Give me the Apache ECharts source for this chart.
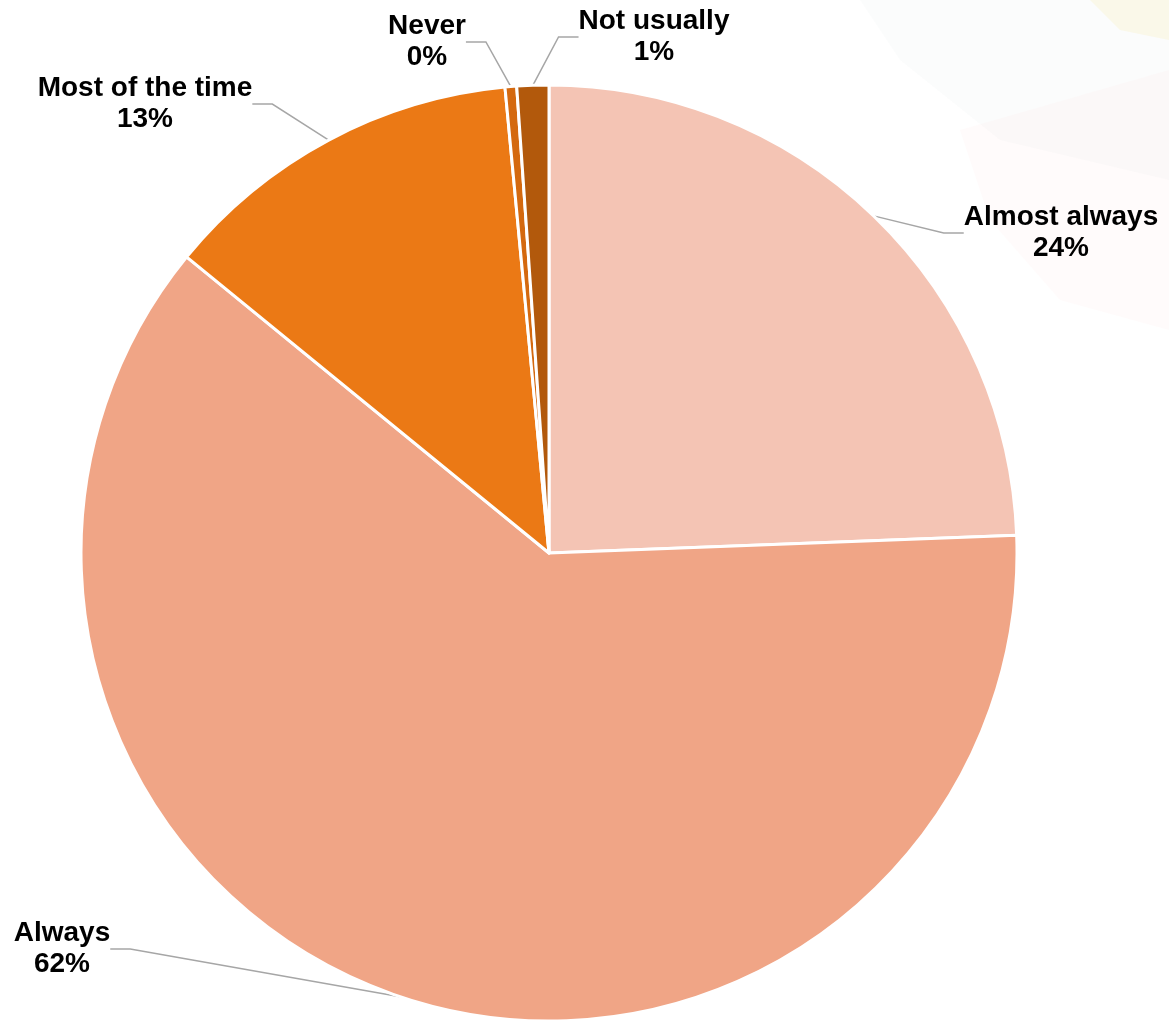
<!DOCTYPE html>
<html>
<head>
<meta charset="utf-8">
<style>
  html, body { margin: 0; padding: 0; background: #ffffff; }
  #chart { width: 1169px; height: 1021px; }
</style>
<script src="https://cdn.jsdelivr.net/npm/echarts@6/dist/echarts.min.js"></script>
</head>
<body>
<div id="chart"></div>
<script>
// ---- data ----
const categories = ["Almost always", "Always", "Most of the time", "Never", "Not usually"];
const shares = [24.4, 61.5, 12.6, 0.4, 1.1];
const colors = ["#F4C4B4", "#F0A586", "#EB7915", "#D4690F", "#B2590C"];

// label anchor positions (layout only)
const labelPos = {
  "Almost always": [1061, 233],
  "Always": [62, 949],
  "Most of the time": [145, 104],
  "Never": [427, 42],
  "Not usually": [654, 37]
};

const chart = echarts.init(document.getElementById('chart'), null, { renderer: 'canvas' });

const seriesData = categories.map((c, i) => ({
  name: c,
  value: shares[i],
  itemStyle: { color: colors[i] }
}));

const option = {
  backgroundColor: '#ffffff',
  animation: false,
  graphic: [
    { type: 'polygon', silent: true, z: -10,
      shape: { points: [[860, 0], [1169, 0], [1169, 180], [1000, 140], [900, 60]] },
      style: { fill: 'rgba(225,228,232,0.12)' } },
    { type: 'polygon', silent: true, z: -10,
      shape: { points: [[1090, 0], [1169, 0], [1169, 40], [1120, 30]] },
      style: { fill: 'rgba(250,240,190,0.30)' } },
    { type: 'polygon', silent: true, z: -10,
      shape: { points: [[960, 130], [1169, 70], [1169, 330], [1060, 300], [990, 220]] },
      style: { fill: 'rgba(252,225,228,0.15)' } }
  ],
  series: [{
    type: 'pie',
    center: [549, 553],
    radius: [0, 468],
    startAngle: 90,
    clockwise: true,
    avoidLabelOverlap: false,
    percentPrecision: 0,
    data: seriesData,
    itemStyle: { borderColor: '#ffffff', borderWidth: 3 },
    label: {
      show: true,
      position: 'outside',
      formatter: '{t|{b}}\n{t|{d}%}',
      fontFamily: '"Liberation Sans", Arial, sans-serif',
      fontWeight: 'bold',
      fontSize: 28,
      color: '#000000',
      lineHeight: 31,
      rich: {
        t: {
          fontFamily: '"Liberation Sans", Arial, sans-serif',
          fontWeight: 'bold',
          fontSize: 28,
          lineHeight: 31,
          color: '#000000',
          align: 'center'
        }
      }
    },
    labelLine: {
      show: true,
      length: 10,
      length2: 20,
      lineStyle: { color: '#A6A6A6', width: 1.5 }
    },
    labelLayout: function (params) {
      const p = labelPos[categories[params.dataIndex]];
      return {
        x: p[0],
        y: p[1],
        align: 'center',
        verticalAlign: 'middle'
      };
    }
  }]
};

chart.setOption(option);
</script>
</body>
</html>
